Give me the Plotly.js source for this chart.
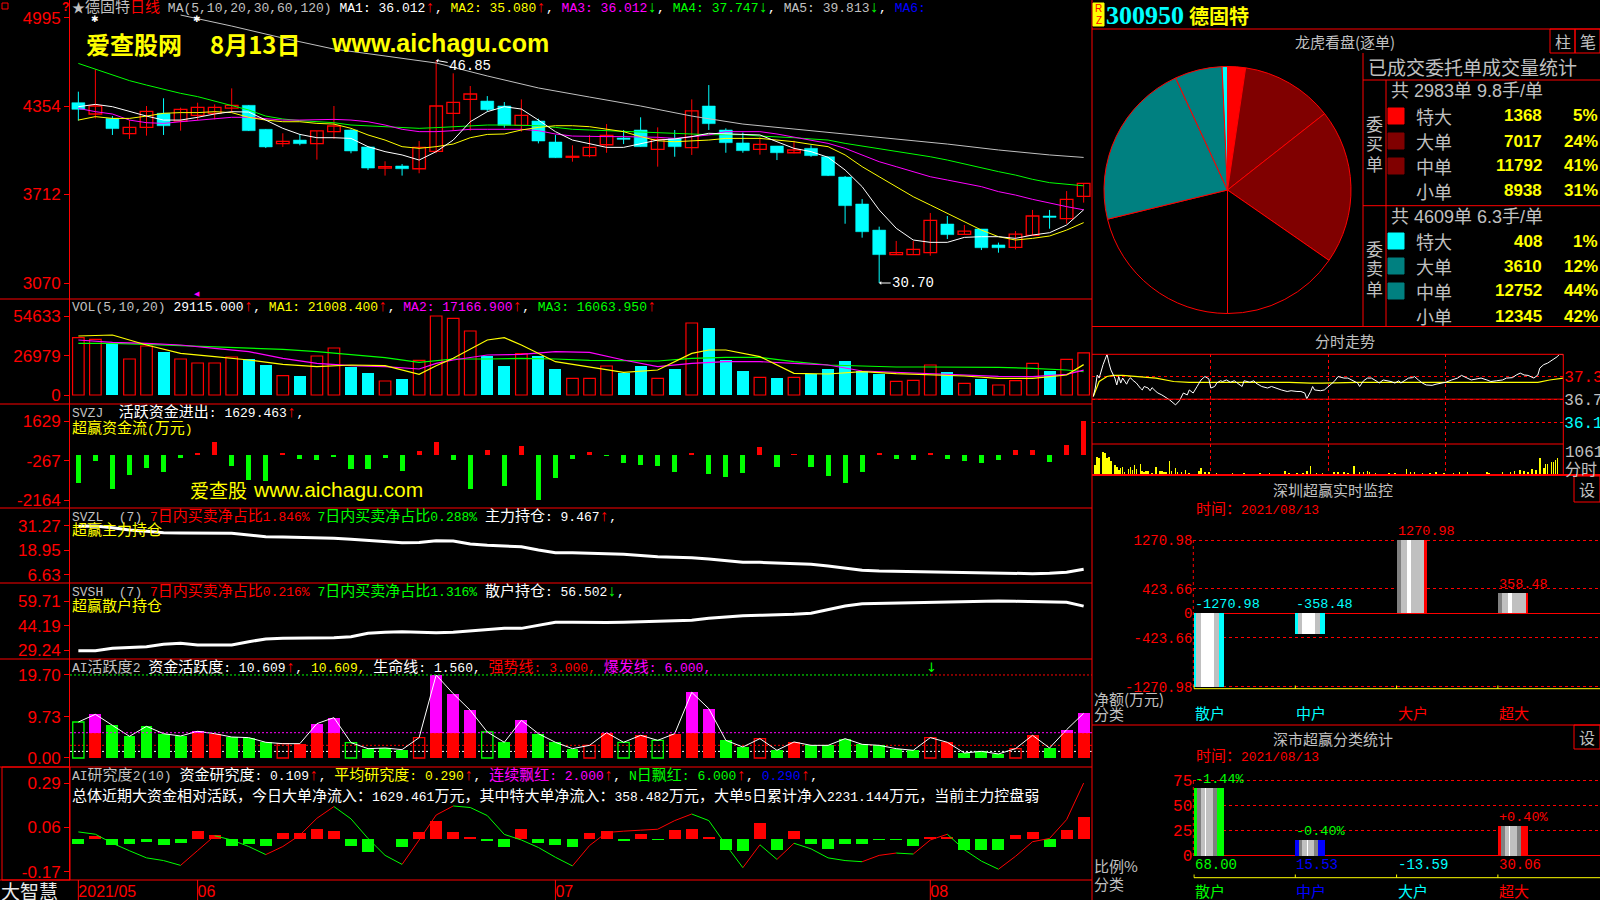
<!DOCTYPE html>
<html><head><meta charset="utf-8">
<script src="https://cdn.plot.ly/plotly-3.0.1.min.js"></script>
<style>html,body{margin:0;padding:0;background:#000;}#c{width:1600px;height:900px;}</style>
</head><body><div id="c"></div>
<script>
// ---------------- DATA ----------------
const dateTickIdx = [0, 7, 28, 50];
const dateTickText = ['2021/05', '06', '07', '08'];

const open  = [43.78,42.96,42.64,41.53,41.99,43.01,42.45,42.86,43.01,43.39,43.59,41.85,40.81,41.07,40.81,41.68,41.80,40.57,39.04,39.19,38.99,40.25,43.01,44.02,43.90,43.54,42.14,42.45,40.93,39.82,39.94,40.73,41.22,41.80,40.40,41.17,40.52,43.54,41.80,40.86,40.40,40.64,40.15,40.47,39.86,38.39,36.43,34.54,32.76,32.76,32.90,34.98,34.23,34.62,33.46,33.29,34.16,35.56,35.37,36.99];
const high  = [44.58,46.20,42.81,42.52,43.54,44.10,43.42,43.78,43.66,44.82,43.61,41.85,41.56,41.51,41.73,43.54,41.85,40.59,39.53,39.33,41.00,46.85,45.91,44.99,44.26,43.83,44.02,42.62,41.44,40.69,41.44,42.23,41.80,42.72,41.99,41.80,44.02,45.06,41.92,41.61,41.27,40.64,41.02,40.69,39.86,38.46,36.79,34.79,33.75,33.75,35.78,35.56,34.91,34.62,33.63,34.47,36.00,36.00,37.37,37.93];
const low   = [42.48,42.64,41.44,41.15,41.39,41.44,41.75,42.52,42.57,43.06,41.73,40.49,40.57,40.69,39.65,41.15,40.11,38.90,38.49,38.49,38.66,40.11,41.73,41.75,43.13,41.97,41.68,40.83,39.79,39.50,39.82,40.15,40.78,40.59,39.14,39.86,39.99,41.80,40.15,40.15,40.01,39.62,40.11,39.86,38.46,35.00,33.99,30.70,32.76,32.76,32.68,33.89,34.23,33.09,32.90,33.14,34.16,34.64,35.00,36.53];
const close = [43.30,43.54,41.90,41.99,43.15,42.11,43.30,43.44,43.44,43.59,41.75,40.57,40.98,40.81,41.73,42.09,40.28,39.04,39.14,38.99,40.54,43.54,43.81,44.41,43.27,42.14,42.86,41.00,39.79,39.89,40.54,41.41,41.12,40.59,41.12,40.59,43.18,42.26,40.88,40.30,40.76,40.15,40.35,39.94,38.49,36.31,34.42,32.76,32.90,33.14,35.25,34.21,34.47,33.26,33.26,34.25,35.56,35.46,36.77,37.93];

const ma5  = [43.49,43.66,43.49,43.13,42.81,42.52,42.52,42.72,42.96,43.13,43.10,42.52,41.92,41.48,41.24,41.24,41.19,40.59,40.23,39.99,39.62,40.23,41.07,42.40,43.13,43.49,43.32,42.52,41.68,41.07,40.83,40.54,40.54,40.78,41.07,41.15,41.32,41.56,41.51,41.51,41.44,40.95,40.47,40.23,39.82,38.90,37.69,36.00,34.67,33.82,33.65,33.65,34.01,34.06,34.06,33.94,34.18,34.35,34.91,36.01];
const ma10 = [42.52,42.77,42.64,42.64,42.81,43.01,43.06,43.06,43.13,43.06,42.72,42.52,42.40,42.40,42.28,42.23,41.92,41.44,41.07,40.59,40.47,40.59,40.78,41.24,41.48,41.51,41.80,41.99,42.11,42.11,42.04,41.85,41.68,41.32,41.02,40.95,41.00,41.07,41.19,41.19,41.19,41.07,40.95,40.76,40.59,39.99,39.14,38.41,37.69,36.96,36.36,35.75,35.15,34.54,34.06,33.82,33.94,34.11,34.54,35.08];
const ma20 = [43.37,43.13,42.96,42.52,42.33,42.28,42.40,42.52,42.64,42.72,42.72,42.62,42.52,42.52,42.57,42.57,42.52,42.40,42.16,41.85,41.68,41.68,41.75,41.85,41.85,41.85,41.85,41.75,41.51,41.36,41.32,41.32,41.32,41.32,41.27,41.19,41.32,41.44,41.68,41.68,41.68,41.51,41.27,41.07,40.83,40.47,39.99,39.50,39.14,38.78,38.41,38.17,37.93,37.69,37.33,37.08,36.77,36.48,36.24,36.01];
const ma30 = [46.63,46.20,45.79,45.38,45.06,44.75,44.46,44.22,43.90,43.61,43.25,42.81,42.60,42.48,42.40,42.33,42.16,42.09,42.04,41.97,41.92,41.97,42.04,42.09,42.16,42.16,42.16,42.11,41.99,41.85,41.80,41.75,41.68,41.61,41.56,41.56,41.51,41.46,41.46,41.46,41.36,41.32,41.24,41.15,41.07,40.83,40.64,40.47,40.23,40.06,39.86,39.62,39.33,39.02,38.78,38.53,38.22,37.98,37.86,37.75];
const ma60Idx = [6,9,12,15,18,21,24,27,30,33,36,39,42,45,48,51,54,57,59];
const ma60    = [50.14,49.34,48.47,47.67,47.17,46.66,45.72,44.85,44.19,43.54,42.81,42.23,41.87,41.51,41.15,40.78,40.35,39.99,39.81];
const maLast  = ['36.012','35.080','36.012','37.747','39.813'];
const priceTicks = [49.95, 43.54, 37.12, 30.70];
const priceTickText = ['4995','4354','3712','3070'];

const volume = [39650,38490,35730,24890,33880,29970,24890,22130,22130,26280,24890,20750,13370,13370,26970,32500,19360,15210,9680,11060,24000,54633,53015,44260,26970,20280,28580,26970,17980,11530,11530,20050,15440,20280,11530,17980,49790,46100,24200,16600,12220,11760,12220,14750,17980,23510,16600,14290,9450,10140,20750,15670,8070,11060,6920,9910,21900,16600,24660,29115];
const volDir = ('rrcrrcrrrr'+'ccrcrrccrc'+'rrrrccrccr'+'rrccrcrccc'+'rcrcccccrr'+'rcrcrrrcrr').split('');
const volMa5Idx = [0,2,4,6,8,10,12,14,16,18,20,21,22,24,25,26,28,30,32,34,36,37,38,40,42,44,46,48,50,52,54,56,58,59];
const volMa5 = [40800,41490,34580,28810,26510,24200,21210,19590,20750,20280,14290,20280,25360,38030,39650,34580,23050,19590,15670,17290,28810,31120,31120,26510,14980,14520,16140,14750,13830,13140,11530,11530,13830,21008];
const volMaIdx = [0,2,4,6,8,10,12,14,16,18,20,21,22,24,26,28,30,32,34,36,38,40,42,44,46,48,50,52,54,56,58,59];
const volMa10 = [38030,36420,35730,34580,32270,29970,25360,21900,20280,19590,17980,21900,24200,27660,28120,29970,29500,24200,19590,21900,23050,23050,21900,20750,16600,15670,14750,13830,12910,12680,14290,17166];
const volMa20 = [35730,35730,35040,34110,33420,32270,31580,29970,28120,25820,22590,23970,24890,24890,25360,24890,23970,23740,23510,25360,26050,26050,23050,20750,19820,19360,19360,19360,19130,18440,17290,16063];
const volTicks = [54633, 26979, 0];

const svzj = [-1360,-272,-1632,-960,-608,-800,-160,112,640,-528,-1200,-1248,112,-208,-240,-112,-688,-688,-128,-768,192,640,-240,-1632,240,-1488,448,-2164,-1088,-176,160,-32,-400,-480,-528,-800,80,-912,-1040,-848,400,-560,32,-560,-1008,-1328,-800,80,-192,-240,112,-192,-288,-368,-240,240,240,-352,480,1629];
const svzjTicks = [1629, -267, -2164];

const svzl = [31.2,31.27,30.42,29.26,28.6,27.9,27.75,27.75,27.75,27.6,26.74,25.9,25.74,25.6,25.39,25.08,24.58,24.08,23.4,22.87,23.0,23.9,23.7,22.22,21.56,21.2,20.86,19.2,17.84,17.84,17.69,17.34,17.0,16.33,15.83,15.5,15.33,14.67,13.66,13.0,13.0,12.66,12.5,12.0,11.15,9.99,8.99,8.63,8.47,8.3,8.3,8.13,7.98,7.63,7.47,7.47,7.3,7.47,7.98,9.47];
const svzlTicks = [31.27, 18.95, 6.63];
const svsh = [28.8,28.8,30.3,30.7,31.3,32.8,33.4,32.35,32.35,32.35,34.4,36.07,36.5,36.5,36.5,36.9,37.5,39.6,40.25,40.6,40.25,40.0,40.25,41.05,42.1,42.7,42.7,44.8,46.5,46.5,46.3,46.3,46.5,46.85,47.3,47.5,47.7,48.95,49.95,50.6,50.8,51.0,51.4,52.06,54.1,56.6,58.0,58.2,58.47,58.7,58.7,58.9,59.1,59.71,59.71,59.5,59.3,59.3,58.9,56.5];
const svshTicks = [59.71, 44.19, 29.24];

const aiAct = [8.54,10.36,7.75,5.14,7.51,5.77,5.22,6.33,5.77,4.98,4.83,3.72,3.40,3.40,8.15,9.57,3.64,2.21,2.37,1.98,4.83,19.70,15.27,11.31,6.17,3.72,8.94,5.77,3.72,2.21,3.00,6.00,3.72,5.38,4.19,5.77,15.58,11.71,4.19,2.61,4.59,1.82,3.80,3.00,3.00,4.59,3.24,3.00,2.21,1.82,4.83,3.72,1.19,1.58,0.95,2.21,5.38,2.37,6.72,10.61];
const aiType = ('Grgggggrrg'+'ggRrrrGggg'+'RrrrGgrggg'+'RrGrGrrrgg'+'Rgrggggggg'+'RrgggRrgrr').split('');
const aiLevels = {top: 19.70, burst: 6.0, strong: 3.0, life: 1.56};
const aiTicks = [19.70, 9.73, 0];
const aiTickText = ['19.70','9.73','0.00'];

const resBar = [-0.025,0.017,-0.030,-0.027,-0.0135,-0.030,-0.022,0.042,0.020,-0.034,-0.025,-0.035,0.029,0.029,0.054,0.042,-0.035,-0.069,-0.002,-0.039,0.034,0.093,0.039,0.012,-0.008,-0.044,0.052,-0.019,-0.030,-0.042,0.029,0.042,-0.008,0.024,-0.005,0.049,0.054,0.008,-0.059,-0.061,0.085,-0.056,0.044,-0.025,-0.051,-0.024,-0.024,-0.005,-0.005,-0.034,0.008,0.012,-0.056,-0.056,-0.056,0.020,0.034,-0.039,0.049,0.113];
const resLine = [0.037,0.025,-0.022,-0.061,-0.098,-0.112,-0.137,-0.06,0.017,-0.005,-0.039,-0.081,-0.039,0.020,0.108,0.169,0.105,0.003,-0.085,-0.132,-0.005,0.125,0.172,0.164,0.122,0.024,-0.005,-0.044,-0.095,-0.140,-0.034,0.034,0.041,0.046,0.051,0.096,0.130,0.096,-0.030,-0.149,-0.030,-0.106,-0.022,-0.051,-0.098,-0.112,-0.118,-0.085,-0.073,-0.078,-0.005,0.025,-0.056,-0.115,-0.157,-0.090,-0.014,0.003,0.101,0.291];
const resTicks = [0.29, 0.06, -0.17];

// pie / order statistics
const orderLabels = ['特大','大单','中单','小单'];
const buyVol  = [1368, 7017, 11792, 8938];
const sellVol = [408, 3610, 12752, 12345];
const buyOrders = 2983, sellOrders = 4609;

// intraday
const prevClose = 36.76;
const intraTicks = [37.35, 36.76, 36.16];
const intraT = [0,1,2,3,5,7,8,9,11,12,13,14,15,17,18,19,20,22,24,25,26,28,29,30,32,33,35,37,39,42,44,46,48,49,51,53,55,57,59,60,62,63,65,66,68,70,72,73,76,77,80,82,83,86,89,91,94,96,99,101,104,106,108,109,111,112,113,116,118,120,123,125,128,130,133,135,136,138,140,142,145,146,148,151,152,154,156,157,159,161,163,164,166,168,170,173,175,178,180,183,186,188,191,193,196,198,201,203,206,209,211,214,216,218,220,222,225,227,228,230,232,235,237,238,240];
const intraP = [36.83,37.05,37.39,37.31,37.66,37.93,37.70,37.52,37.31,37.13,37.35,37.18,37.31,37.15,37.26,37.32,37.26,37.18,37.05,37.00,37.09,37.05,36.98,37.06,36.96,36.92,36.87,36.80,36.74,36.61,36.72,36.92,36.87,37.00,36.92,37.09,37.26,37.35,37.29,37.05,37.09,37.18,37.24,37.22,37.26,37.20,37.24,37.20,37.09,37.24,37.20,37.24,37.18,37.09,37.05,37.09,37.03,37.00,36.96,36.98,36.96,36.96,36.92,36.77,36.96,37.09,37.00,36.98,37.00,37.09,37.22,37.35,37.31,37.31,37.22,37.18,37.09,37.24,37.31,37.31,37.22,37.18,37.26,37.24,37.22,37.18,37.24,37.18,37.24,37.31,37.32,37.35,37.26,37.18,37.13,37.12,37.15,37.18,37.20,37.26,37.31,37.38,37.31,37.26,37.29,37.31,37.26,37.22,37.24,37.26,37.31,37.32,37.39,37.44,37.39,37.38,37.31,37.39,37.57,37.66,37.70,37.79,37.87,37.93,37.92];
const avgT = [0,3,7,10,15,24,32,41,49,66,83,100,111,117,135,152,169,186,203,220,227,233,240];
const avgP = [36.83,37.22,37.35,37.38,37.38,37.35,37.31,37.22,37.20,37.20,37.20,37.20,37.18,37.18,37.20,37.20,37.20,37.20,37.20,37.20,37.20,37.26,37.31];
const ivT = [1,2,3,5,6,7,8,9,11,12,13,14,15,16,18,19,20,21,22,24,25,26,27,28,30,32,34,35,36,37,39,40,42,43,45,47,49,54,55,57,59,63,71,77,85,90,98,100,104,107,109,111,114,117,123,125,128,130,133,136,138,140,141,144,151,154,160,162,164,168,172,175,179,184,187,191,201,202,209,213,215,218,220,222,224,226,228,230,231,232,234,235,236,237];
const ivV = [455,834,758,1061,1016,788,834,637,455,379,227,303,379,152,273,379,227,455,273,485,182,152,182,197,76,379,197,182,152,152,637,182,303,152,121,227,76,182,334,152,152,76,76,76,76,76,182,106,91,106,182,409,76,76,121,152,121,76,424,121,152,197,152,76,76,106,273,152,121,76,106,121,76,76,152,121,121,106,121,152,182,227,182,152,273,227,758,303,485,485,576,606,682,758];
const ivMaxLabel = '1061';

// Shenzhen monitors
const monCats = ['散户','中户','大户','超大'];
const monVals = [-1270.98, -358.48, 1270.98, 358.48];
const monTicks = [1270.98, 423.66, 0, -423.66, -1270.98];
const clsVals = [68.00, 15.53, -13.59, 30.06];
const clsChg  = ['-1.44%', '-0.40%', '', '+0.40%'];
const clsTicks = [75, 50, 25, 0];
const dateStr = '2021/08/13';

// ---------------- HELPERS ----------------
const W = 1600, H = 900;
const px = x => x / W, py = y => 1 - y / H;
const MONO = 'Liberation Mono, Noto Sans CJK SC, monospace';
const CJK = 'Noto Sans CJK SC, sans-serif';
const RED = '#ff0000', CYAN = '#00ffff', GREEN = '#00ff00', MAG = '#ff00ff', YEL = '#ffff00', GRAY = '#c0c0c0', WHITE = '#ffffff', BLUE = '#0000ff', TEAL = '#008080', DRED = '#800000';
const N = close.length;
const idx = [...Array(N).keys()];

function cat(ch) { if (/[↑↓]/.test(ch)) return 'a'; return /[\u2e80-\u9fff\u3000-\u303f\uff00-\uffef]/.test(ch) ? 'c' : 'l'; }
function rich(parts, ls = 13, cs = 15) {
  const size = { l: ls, c: cs, a: 16 };
  let out = '';
  for (const [col, txt] of parts) {
    let run = '', runC = null;
    const flush = () => { if (run) { out += `<span style="color:${col};font-size:${size[runC]}px">${run}</span>`; run = ''; } };
    for (const ch of txt) { const c = cat(ch); if (runC !== null && c !== runC) flush(); runC = c; run += (ch === ' ' ? '\u00a0' : ch); }
    flush();
  }
  return out;
}
const anns = [], shapes = [];
function A(x, y, text, o = {}) {
  const { font, ...rest } = o;
  anns.push(Object.assign({ xref: 'paper', yref: 'paper', x: px(x), y: py(y), text, showarrow: false, xanchor: 'left', yanchor: 'middle', borderpad: 0,
    font: Object.assign({ family: MONO, size: 13, color: GRAY }, font || {}) }, rest));
}
function HL(y, x0, x1, color = RED, w = 1, dash) { shapes.push({ type: 'line', xref: 'paper', yref: 'paper', x0: px(x0), x1: px(x1), y0: py(y), y1: py(y), line: { color, width: w, dash: dash || 'solid' } }); }
function VL(x, y0, y1, color = RED, w = 1, dash) { shapes.push({ type: 'line', xref: 'paper', yref: 'paper', x0: px(x), x1: px(x), y0: py(y0), y1: py(y1), line: { color, width: w, dash: dash || 'solid' } }); }
function RECT(x0, y0, x1, y1, lc = RED, fill = 'rgba(0,0,0,0)', w = 1) { shapes.push({ type: 'rect', xref: 'paper', yref: 'paper', x0: px(x0), x1: px(x1), y0: py(y1), y1: py(y0), line: { color: lc, width: w }, fillcolor: fill }); }

// ---------------- TRACES ----------------
const data = [];
const sk = { hoverinfo: 'skip', showlegend: false };
const upI = idx.filter(i => close[i] >= open[i]);
const dnI = idx.filter(i => close[i] < open[i]);
function wick(list) { const x = [], y = []; list.forEach(i => { x.push(i, i, null); y.push(low[i], high[i], null); }); return { x, y }; }
const wu = wick(upI), wd = wick(dnI);
data.push(Object.assign({ type: 'scatter', mode: 'lines', x: wu.x, y: wu.y, line: { color: RED, width: 1 }, xaxis: 'x', yaxis: 'y' }, sk));
data.push(Object.assign({ type: 'scatter', mode: 'lines', x: wd.x, y: wd.y, line: { color: CYAN, width: 1 }, xaxis: 'x', yaxis: 'y' }, sk));
data.push(Object.assign({ type: 'bar', x: upI, base: upI.map(i => open[i]), y: upI.map(i => Math.max(close[i] - open[i], 0.02)), width: 0.74,
  marker: { color: '#000000', line: { color: RED, width: 1.3 } }, xaxis: 'x', yaxis: 'y' }, sk));
data.push(Object.assign({ type: 'bar', x: dnI, base: dnI.map(i => close[i]), y: dnI.map(i => Math.max(open[i] - close[i], 0.03)), width: 0.76,
  marker: { color: CYAN, line: { color: CYAN, width: 0.5 } }, xaxis: 'x', yaxis: 'y' }, sk));
[[ma60Idx, ma60, GRAY], [idx, ma30, GREEN], [idx, ma20, MAG], [idx, ma10, YEL], [idx, ma5, WHITE]].forEach(([xx, yy, c]) =>
  data.push(Object.assign({ type: 'scatter', mode: 'lines', x: xx, y: yy, line: { color: c, width: 1 }, xaxis: 'x', yaxis: 'y' }, sk)));

// volume
const vR = idx.filter(i => volDir[i] === 'r'), vC = idx.filter(i => volDir[i] === 'c');
data.push(Object.assign({ type: 'bar', x: vR, y: vR.map(i => volume[i]), width: 0.68, marker: { color: '#000000', line: { color: RED, width: 1.2 } }, xaxis: 'x', yaxis: 'y2' }, sk));
data.push(Object.assign({ type: 'bar', x: vC, y: vC.map(i => volume[i]), width: 0.7, marker: { color: CYAN, line: { width: 0 } }, xaxis: 'x', yaxis: 'y2' }, sk));
[[volMaIdx, volMa20, GREEN], [volMaIdx, volMa10, MAG], [volMa5Idx, volMa5, YEL]].forEach(([xx, yy, c]) =>
  data.push(Object.assign({ type: 'scatter', mode: 'lines', x: xx, y: yy, line: { color: c, width: 1.2 }, xaxis: 'x', yaxis: 'y2' }, sk)));

// SVZJ
data.push(Object.assign({ type: 'bar', x: idx, y: svzj, width: 0.3, marker: { color: svzj.map(v => v >= 0 ? RED : GREEN), line: { width: 0 } }, xaxis: 'x', yaxis: 'y3' }, sk));
// SVZL / SVSH
data.push(Object.assign({ type: 'scatter', mode: 'lines', x: idx, y: svzl, line: { color: WHITE, width: 3 }, xaxis: 'x', yaxis: 'y4' }, sk));
data.push(Object.assign({ type: 'scatter', mode: 'lines', x: idx, y: svsh, line: { color: WHITE, width: 3 }, xaxis: 'x', yaxis: 'y5' }, sk));

// AI activity
const tI = t => idx.filter(i => aiType[i] === t);
const gF = tI('g'), gH = tI('G'), rF = tI('r'), rH = tI('R');
const mF = rF.filter(i => aiAct[i] > aiLevels.burst);
data.push(Object.assign({ type: 'bar', x: gF, y: gF.map(i => aiAct[i]), width: 0.7, marker: { color: GREEN, line: { width: 0 } }, xaxis: 'x', yaxis: 'y6' }, sk));
data.push(Object.assign({ type: 'bar', x: rF, y: rF.map(i => Math.min(aiAct[i], aiLevels.burst)), width: 0.7, marker: { color: RED, line: { width: 0 } }, xaxis: 'x', yaxis: 'y6' }, sk));
data.push(Object.assign({ type: 'bar', x: mF, base: mF.map(() => aiLevels.burst), y: mF.map(i => aiAct[i] - aiLevels.burst), width: 0.7, marker: { color: MAG, line: { width: 0 } }, xaxis: 'x', yaxis: 'y6' }, sk));
data.push(Object.assign({ type: 'bar', x: gH, y: gH.map(i => aiAct[i]), width: 0.66, marker: { color: 'rgba(0,0,0,0)', line: { color: GREEN, width: 1.3 } }, xaxis: 'x', yaxis: 'y6' }, sk));
data.push(Object.assign({ type: 'bar', x: rH, y: rH.map(i => aiAct[i]), width: 0.66, marker: { color: 'rgba(0,0,0,0)', line: { color: RED, width: 1.3 } }, xaxis: 'x', yaxis: 'y6' }, sk));
data.push(Object.assign({ type: 'scatter', mode: 'lines', x: idx, y: aiAct, line: { color: WHITE, width: 1 }, xaxis: 'x', yaxis: 'y6' }, sk));

// AI research
data.push(Object.assign({ type: 'bar', x: idx, y: resBar, width: 0.7, marker: { color: resBar.map(v => v >= 0 ? RED : GREEN), line: { width: 0 } }, xaxis: 'x', yaxis: 'y7' }, sk));
const ruX = [], ruY = [], rdX = [], rdY = [];
for (let i = 0; i < N - 1; i++) { const up = resLine[i + 1] >= resLine[i]; (up ? ruX : rdX).push(i, i + 1, null); (up ? ruY : rdY).push(resLine[i], resLine[i + 1], null); }
data.push(Object.assign({ type: 'scatter', mode: 'lines', x: ruX, y: ruY, line: { color: RED, width: 1 }, xaxis: 'x', yaxis: 'y7' }, sk));
data.push(Object.assign({ type: 'scatter', mode: 'lines', x: rdX, y: rdY, line: { color: GREEN, width: 1 }, xaxis: 'x', yaxis: 'y7' }, sk));

// pie
data.push({ type: 'pie', values: buyVol.concat(sellVol.slice().reverse()), sort: false, direction: 'clockwise', rotation: 0,
  marker: { colors: [RED, DRED, DRED, '#000000', '#000000', TEAL, TEAL, CYAN], line: { color: RED, width: 1 } },
  textinfo: 'none', hoverinfo: 'skip', showlegend: false,
  domain: { x: [px(1103.8), px(1351.2)], y: [py(313.5), py(66.5)] } });

// intraday
data.push(Object.assign({ type: 'bar', x: ivT, y: ivV, width: 0.8, marker: { color: YEL, line: { width: 0 } }, xaxis: 'x2', yaxis: 'y9' }, sk));
data.push(Object.assign({ type: 'scatter', mode: 'lines', x: avgT, y: avgP, line: { color: YEL, width: 1.2 }, xaxis: 'x2', yaxis: 'y8' }, sk));
data.push(Object.assign({ type: 'scatter', mode: 'lines', x: intraT, y: intraP, line: { color: WHITE, width: 1 }, xaxis: 'x2', yaxis: 'y8' }, sk));

// striped bars
const UX = 101.3;
function stripes(xa, ya, vals, fn) {
  vals.forEach((v, k) => {
    const layers = fn(k, v); if (!layers) return;
    layers.forEach(([a, b, c]) => data.push(Object.assign({ type: 'bar', x: [k], y: [v], base: [0], offset: [(a - 15) / UX], width: [(b - a) / UX],
      marker: { color: c, line: { width: 0 } }, xaxis: xa, yaxis: ya }, sk)));
  });
}
stripes('x3', 'y10', monVals, (k, v) => v < 0
  ? [[0, 30, CYAN], [2.3, 24.7, GRAY], [6.7, 19.7, WHITE]]
  : [[0, 30, RED], [0, 27.7, '#808080'], [4, 27.7, GRAY], [10, 14, WHITE]]);
const clsColors = [GREEN, BLUE, CYAN, RED];
stripes('x4', 'y11', clsVals, (k, v) => v > 0
  ? [[0, 30, clsColors[k]], [3.3, 23, '#808080'], [6.7, 19, GRAY], [11.3, 12.3, WHITE]] : null);

// ---------------- AXES ----------------
const xL = [70, 1092];
function yax(top, bot, range, tv, tt, extra) {
  return Object.assign({ domain: [py(bot), py(top)], range, tickvals: tv, ticktext: tt || tv.map(String), anchor: 'x', side: 'left',
    ticks: 'outside', ticklen: 5, tickcolor: RED, tickwidth: 1, tickfont: { color: RED, size: 17, family: 'Liberation Sans' },
    showline: true, linecolor: RED, linewidth: 1, showgrid: false, zeroline: false, fixedrange: true }, extra || {});
}
const layout = {
  width: W, height: H, margin: { l: 0, r: 0, t: 0, b: 0 }, paper_bgcolor: '#000000', plot_bgcolor: '#000000',
  showlegend: false, barmode: 'overlay', bargap: 0, hovermode: false,
  xaxis: { domain: [px(xL[0]), px(xL[1])], range: [-0.49, 59.49], anchor: 'y7', tickvals: dateTickIdx, ticktext: dateTickText, ticks: '',
    ticklabelposition: 'outside right', tickfont: { color: RED, size: 16, family: 'Liberation Sans' }, showgrid: false, zeroline: false, showline: false, fixedrange: true },
  yaxis:  yax(0, 299, [29.54, 51.23], priceTicks, priceTickText),
  yaxis2: yax(299, 404, [-6224, 66390], volTicks),
  yaxis3: yax(404, 508, [-2544, 2448], svzjTicks),
  yaxis4: yax(508, 583, [2.6, 40.32], svzlTicks, svzlTicks.map(v => v.toFixed(2))),
  yaxis5: yax(583, 659, [23.65, 70.9], svshTicks, svshTicks.map(v => v.toFixed(2))),
  yaxis6: yax(659, 767, [-2.14, 23.49], aiTicks, aiTickText),
  yaxis7: yax(767, 880, [-0.2132, 0.3748], resTicks, resTicks.map(v => v.toFixed(2))),
  xaxis2: { domain: [px(1092), px(1563.3)], range: [-0.66, 240], anchor: 'y9', tickvals: [60, 120, 180], showticklabels: false, ticks: '',
    showgrid: true, gridcolor: RED, griddash: 'dot', gridwidth: 1, zeroline: false, showline: false, fixedrange: true },
  yaxis8: { domain: [py(444), py(354.3)], range: [35.59, 37.93], anchor: 'x2', side: 'right', tickvals: intraTicks,
    ticktext: intraTicks.map((v, k) => `<span style="color:${[RED, GRAY, CYAN][k]}">${v.toFixed(2)}</span>`),
    ticks: '', tickfont: { size: 16, family: 'Liberation Mono', color: GRAY }, showgrid: true, gridcolor: RED, griddash: 'dot', zeroline: false, showline: false, fixedrange: true },
  yaxis9: { domain: [py(475), py(444)], range: [0, 1412], anchor: 'x2', showticklabels: false, ticks: '', showgrid: false, zeroline: false, showline: false, fixedrange: true },
  xaxis3: { domain: [px(1193.3), 1], range: [-0.155, 3.86], anchor: 'y10', showticklabels: false, ticks: '', showgrid: false, zeroline: false, showline: false, fixedrange: true },
  yaxis10: { domain: [py(700), py(520)], range: [-1503.4, 1617.8], anchor: 'x3', tickvals: monTicks, ticktext: monTicks.map(v => v === 0 ? '0' : v.toFixed(2)),
    ticks: '', tickfont: { color: RED, size: 14, family: 'Liberation Mono' }, showgrid: true, gridcolor: RED, griddash: 'dot',
    zeroline: true, zerolinecolor: RED, zerolinewidth: 1.5, showline: false, fixedrange: true },
  xaxis4: { domain: [px(1193.3), 1], range: [-0.155, 3.86], anchor: 'y11', showticklabels: false, ticks: '', showgrid: false, zeroline: false, showline: false, fixedrange: true },
  yaxis11: { domain: [py(862), py(770)], range: [-6.3, 85.7], anchor: 'x4', tickvals: clsTicks, ticktext: clsTicks.map(String),
    ticks: '', tickfont: { color: RED, size: 16, family: 'Liberation Mono' }, showgrid: true, gridcolor: RED, griddash: 'dot',
    zeroline: true, zerolinecolor: RED, zerolinewidth: 1.5, showline: false, fixedrange: true },
  shapes, annotations: anns
};

// ---------------- FRAME LINES ----------------
[299, 404, 508, 583, 659, 767, 880].forEach(y => HL(y, 0, 1092));
VL(1092, 0, 900);
RECT(2, 767, 70, 880);
dateTickIdx.forEach(d => shapes.push({ type: 'line', xref: 'x', yref: 'paper', x0: d, x1: d, y0: py(880), y1: py(900), line: { color: RED, width: 1 } }));
RECT(2, 3, 8, 9);
const lvl = (y, x0, x1, c, layer) => shapes.push({ type: 'line', xref: 'paper', yref: 'y6', x0: px(x0), x1: px(x1), y0: y, y1: y, line: { color: c, width: 1, dash: '2px,2px' }, layer: layer || 'above' });
lvl(aiLevels.top, 70, 931, GREEN); lvl(aiLevels.top, 931, 1092, RED);
lvl(aiLevels.burst, 70, 1092, MAG);
lvl(aiLevels.strong, 70, 1092, RED, 'below');
lvl(aiLevels.life, 70, 1092, WHITE, 'below');

HL(29, 1092, 1600);
RECT(1550, 29, 1575, 53); RECT(1575, 29, 1600, 53);
VL(1363, 53, 326); VL(1386, 80, 326);
HL(80, 1363, 1600); HL(205.7, 1363, 1600);
HL(326.5, 1092, 1600);
HL(354.3, 1092, 1563.3); HL(444, 1092, 1563.3); HL(475, 1092, 1600, RED, 2); VL(1563.3, 354.3, 475);
shapes.push({ type: 'line', xref: 'paper', yref: 'y8', x0: px(1092), x1: px(1563.3), y0: prevClose, y1: prevClose, line: { color: RED, width: 1 } });
RECT(1574, 476, 1600, 502);
HL(725, 1092, 1600);
RECT(1574, 725, 1600, 749);
VL(1193.3, 540, 688, RED, 1, 'dot'); VL(1193.3, 781, 855, RED, 1, 'dot');
HL(688.7, 1194, 1600, YEL); HL(877.7, 1194, 1600, YEL);
monCats.forEach((c, k) => {
  shapes.push({ type: 'line', xref: 'x3', yref: 'paper', x0: k - 15 / UX, x1: k - 15 / UX, y0: py(688.7), y1: py(685.5), line: { color: YEL, width: 1 } });
  shapes.push({ type: 'line', xref: 'x4', yref: 'paper', x0: k - 15 / UX, x1: k - 15 / UX, y0: py(877.7), y1: py(874.5), line: { color: YEL, width: 1 } });
});
const rowsBuy = [116, 141, 166, 191], rowsSell = [241, 266, 291, 316];
[RED, DRED, DRED].forEach((c, k) => RECT(1388, rowsBuy[k] - 8, 1404, rowsBuy[k] + 8, c, c));
[CYAN, TEAL, TEAL].forEach((c, k) => RECT(1388, rowsSell[k] - 8, 1404, rowsSell[k] + 8, c, c));
RECT(1093, 3, 1104, 26, YEL, YEL);

// ---------------- TEXT ----------------
const sep = [WHITE, ', '];
A(71, 8, rich([[GRAY, '★德固特'], [RED, '日线'], [GRAY, ' MA(5,10,20,30,60,120) '],
  [WHITE, 'MA1: ' + maLast[0]], [RED, '↑'], sep, [YEL, 'MA2: ' + maLast[1]], [RED, '↑'], sep,
  [MAG, 'MA3: ' + maLast[2]], [GREEN, '↓'], sep, [GREEN, 'MA4: ' + maLast[3]], [GREEN, '↓'], sep,
  [GRAY, 'MA5: ' + maLast[4]], [GREEN, '↓'], sep, [BLUE, 'MA6:']]));
A(61, 7, '<b>?</b>', { font: { color: RED, size: 12, family: 'Liberation Sans' } });
A(95, 19, '✱', { xanchor: 'center', font: { color: WHITE, size: 9, family: 'DejaVu Sans' } });
A(197, 19, '✱', { xanchor: 'center', font: { color: WHITE, size: 9, family: 'DejaVu Sans' } });
A(197, 294, '◀', { xanchor: 'center', font: { color: MAG, size: 7, family: 'DejaVu Sans' } });
A(85, 43, '<b>爱查股网</b>', { font: { family: CJK, size: 24, color: YEL } });
A(209, 43, '<b>8月13日</b>', { font: { family: CJK, size: 24, color: YEL } });
A(330, 43, '<b>www.aichagu.com</b>', { font: { family: 'Liberation Sans', size: 25, color: YEL } });
const hiI = high.indexOf(Math.max(...high)), loI = low.indexOf(Math.min(...low));
anns.push({ xref: 'x', yref: 'y', x: hiI, y: high[hiI], text: high[hiI].toFixed(2), showarrow: true, ax: 34, ay: 6, arrowcolor: WHITE, arrowwidth: 1, arrowhead: 1, arrowsize: 0.7, standoff: 0, font: { family: MONO, size: 14, color: WHITE } });
anns.push({ xref: 'x', yref: 'y', x: loI, y: low[loI], text: low[loI].toFixed(2), showarrow: true, ax: 34, ay: 0, arrowcolor: WHITE, arrowwidth: 1, arrowhead: 1, arrowsize: 0.7, standoff: 0, font: { family: MONO, size: 14, color: WHITE } });

A(71, 307, rich([[GRAY, 'VOL(5,10,20) '], [WHITE, '29115.000'], [RED, '↑'], sep, [YEL, 'MA1: 21008.400'], [RED, '↑'], sep,
  [MAG, 'MA2: 17166.900'], [RED, '↑'], sep, [GREEN, 'MA3: 16063.950'], [RED, '↑']]));
A(71, 413, rich([[GRAY, 'SVZJ  '], [WHITE, '活跃资金进出: 1629.463'], [RED, '↑'], [WHITE, ',']]));
A(71, 429, rich([[YEL, '超赢资金流(万元)']]));
A(189, 489, '爱查股', { font: { family: CJK, size: 19, color: YEL } });
A(252, 489, 'www.aichagu.com', { font: { family: 'Liberation Sans', size: 21, color: YEL } });
A(71, 517, rich([[GRAY, 'SVZL  (7) '], [RED, '7日内买卖净占比1.846%'], [GREEN, ' 7日内买卖净占比0.288%'], [WHITE, ' 主力持仓: 9.467'], [RED, '↑'], [WHITE, ',']]));
A(71, 531, rich([[YEL, '超赢主力持仓']]));
A(71, 592, rich([[GRAY, 'SVSH  (7) '], [RED, '7日内买卖净占比0.216%'], [GREEN, ' 7日内买卖净占比1.316%'], [WHITE, ' 散户持仓: 56.502'], [GREEN, '↓'], [WHITE, ',']]));
A(71, 607, rich([[YEL, '超赢散户持仓']]));
A(71, 667, rich([[GRAY, 'AI活跃度2 '], [WHITE, '资金活跃度: 10.609'], [RED, '↑'], sep, [YEL, '10.609, '], [WHITE, '生命线: 1.560, '], [RED, '强势线: 3.000, '], [MAG, '爆发线: 6.000,']]));
A(931, 667, '↓', { xanchor: 'center', font: { color: GREEN, size: 13, family: 'DejaVu Sans' } });
A(71, 776, rich([[GRAY, 'AI研究度2(10) '], [WHITE, '资金研究度: 0.109'], [RED, '↑'], sep, [YEL, '平均研究度: 0.290'], [RED, '↑'], sep,
  [MAG, '连续飘红: 2.000'], [RED, '↑'], sep, [GREEN, 'N日飘红: 6.000'], [RED, '↑'], sep, [BLUE, '0.290'], [RED, '↑'], [WHITE, ',']]));
A(71, 796, rich([[WHITE, '总体近期大资金相对活跃，今日大单净流入：1629.461万元，其中特大单净流入：358.482万元，大单5日累计净入2231.144万元，当前主力控盘弱']]));
A(0, 890, '大智慧', { font: { family: CJK, size: 19, color: '#e8e8e8' } });

A(1098.5, 8.5, 'R', { xanchor: 'center', font: { family: 'Liberation Sans', size: 10, color: RED } });
A(1098.5, 20, 'Z', { xanchor: 'center', font: { family: 'Liberation Sans', size: 10, color: RED } });
A(1105, 15, '<b>300950</b>', { font: { family: 'Liberation Serif', size: 26, color: CYAN } });
A(1188, 15, '<b>德固特</b>', { font: { family: CJK, size: 20, color: YEL } });
A(1345, 42, '龙虎看盘(逐单)', { xanchor: 'center', font: { family: CJK, size: 15, color: GRAY } });
A(1562.5, 41, '柱', { xanchor: 'center', font: { family: CJK, size: 16, color: GRAY } });
A(1587.5, 41, '笔', { xanchor: 'center', font: { family: CJK, size: 16, color: GRAY } });
A(1367, 67, '已成交委托单成交量统计', { font: { family: CJK, size: 19, color: GRAY } });
const TF = { family: 'Liberation Sans, Noto Sans CJK SC', size: 18, color: GRAY };
const buyTot = buyVol.reduce((a, b) => a + b, 0), sellTot = sellVol.reduce((a, b) => a + b, 0);
A(1390, 91, `共 ${buyOrders}单 ${(buyTot / buyOrders).toFixed(1)}手/单`, { font: TF });
A(1390, 217, `共 ${sellOrders}单 ${(sellTot / sellOrders).toFixed(1)}手/单`, { font: TF });
['委', '买', '单'].forEach((c, k) => A(1374.5, 123 + 20 * k, c, { xanchor: 'center', font: { family: CJK, size: 17, color: GRAY } }));
['委', '卖', '单'].forEach((c, k) => A(1374.5, 248 + 20 * k, c, { xanchor: 'center', font: { family: CJK, size: 17, color: GRAY } }));
const NF = { family: 'Liberation Sans', size: 17, color: YEL };
orderLabels.forEach((l, k) => {
  A(1415, rowsBuy[k], l, { font: { family: CJK, size: 18, color: GRAY } });
  A(1543, rowsBuy[k], '<b>' + buyVol[k] + '</b>', { xanchor: 'right', font: NF });
  A(1599, rowsBuy[k], '<b>' + Math.round(buyVol[k] / buyTot * 100) + '%</b>', { xanchor: 'right', font: NF });
  A(1415, rowsSell[k], l, { font: { family: CJK, size: 18, color: GRAY } });
  A(1543, rowsSell[k], '<b>' + sellVol[k] + '</b>', { xanchor: 'right', font: NF });
  A(1599, rowsSell[k], '<b>' + Math.round(sellVol[k] / sellTot * 100) + '%</b>', { xanchor: 'right', font: NF });
});
A(1345, 340, '分时走势', { xanchor: 'center', font: { family: CJK, size: 15, color: GRAY } });
A(1564, 453, ivMaxLabel, { font: { family: 'Liberation Mono', size: 16, color: GRAY } });
A(1564, 468, '分时', { font: { family: CJK, size: 16, color: GRAY } });

A(1333, 490, '深圳超赢实时监控', { xanchor: 'center', font: { family: CJK, size: 15, color: GRAY } });
A(1587, 489, '设', { xanchor: 'center', font: { family: CJK, size: 16, color: GRAY } });
A(1195, 510, rich([[RED, '时间：' + dateStr]]));
monVals.forEach((v, k) => {
  anns.push({ xref: 'x3', yref: 'y10', x: k - 15 / UX, y: v < 0 ? 0 : v, text: v.toFixed(2), showarrow: false, xanchor: 'left', yanchor: 'bottom', borderpad: 0,
    font: { family: 'Liberation Mono', size: 13.5, color: v < 0 ? CYAN : RED } });
  anns.push({ xref: 'x3', yref: 'paper', x: k - 15 / UX, y: py(712), text: monCats[k], showarrow: false, xanchor: 'left', yanchor: 'middle', borderpad: 0,
    font: { family: CJK, size: 15, color: v < 0 ? CYAN : RED } });
});
A(1093, 698, '净额(万元)', { font: { family: CJK, size: 15, color: GRAY } });
A(1093, 713, '分类', { font: { family: CJK, size: 15, color: GRAY } });

A(1333, 738, '深市超赢分类统计', { xanchor: 'center', font: { family: CJK, size: 15, color: GRAY } });
A(1587, 737, '设', { xanchor: 'center', font: { family: CJK, size: 16, color: GRAY } });
A(1195, 757, rich([[RED, '时间：' + dateStr]]));
const valColors = [GREEN, BLUE, CYAN, RED];
clsVals.forEach((v, k) => {
  if (clsChg[k]) anns.push({ xref: 'x4', yref: 'y11', x: k - 15 / UX, y: v, text: clsChg[k], showarrow: false, xanchor: 'left', yanchor: 'bottom', borderpad: 0,
    font: { family: 'Liberation Mono', size: 13.5, color: clsChg[k][0] === '+' ? RED : GREEN } });
  anns.push({ xref: 'x4', yref: 'paper', x: k - 15 / UX, y: py(865), text: v.toFixed(2), showarrow: false, xanchor: 'left', yanchor: 'middle', borderpad: 0,
    font: { family: 'Liberation Mono', size: 14, color: valColors[k] } });
  anns.push({ xref: 'x4', yref: 'paper', x: k - 15 / UX, y: py(890), text: monCats[k], showarrow: false, xanchor: 'left', yanchor: 'middle', borderpad: 0,
    font: { family: CJK, size: 15, color: valColors[k] } });
});
A(1093, 865, '比例%', { font: { family: CJK, size: 15, color: GRAY } });
A(1093, 883, '分类', { font: { family: CJK, size: 15, color: GRAY } });

Plotly.newPlot('c', data, layout, { staticPlot: true, displayModeBar: false });
</script></body></html>
